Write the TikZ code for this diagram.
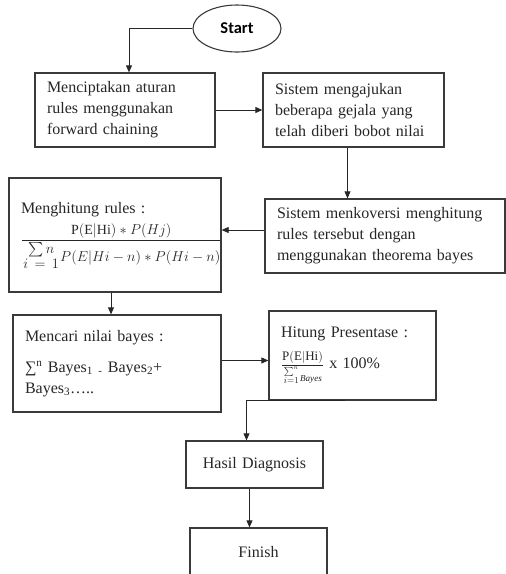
\documentclass[tikz,border=0pt]{standalone}
\usepackage{amsmath}
\usepackage{fontspec}
\setmainfont{Liberation Serif}
\newfontfamily\startfont{Carlito}
\usetikzlibrary{shapes.geometric,arrows.meta}
\definecolor{edge}{HTML}{3A3A3A}
\newcommand{\boxfont}{\fontsize{16}{21}\selectfont}

\begin{document}
\begin{tikzpicture}[x=1pt, y=-1pt,
  stage/.style={rectangle, draw=edge, line width=1.3pt, align=left, inner xsep=12pt, inner ysep=4pt, font=\boxfont, text=black!85},
  term/.style={ellipse, draw=edge, line width=1.1pt, minimum width=88pt, minimum height=47pt, inner sep=0pt, font=\startfont\bfseries\fontsize{16.5}{18}\selectfont},
  arr/.style={-{Triangle[length=7pt, width=6pt]}, line width=0.8pt, black!85}
]
  \useasboundingbox (0,0) rectangle (506,574);

  \node[term] (start) at (237,28.5) {Start};
  \node[stage, minimum width=180pt, text width=156pt, minimum height=74pt] (rules) at (125,110) {Menciptakan aturan\\rules menggunakan\\forward chaining};
  \node[stage, minimum width=181pt, text width=157pt, minimum height=74pt] (gejala) at (353.5,110) {Sistem mengajukan\\beberapa gejala yang\\telah diberi bobot nilai};
  \node[stage, minimum width=240pt, text width=216pt, minimum height=74pt] (konversi) at (385,236) {Sistem menkoversi menghitung\\rules tersebut dengan\\menggunakan theorema bayes};
  \node[stage, minimum width=212pt, text width=188pt, minimum height=114pt] (rumus) at (115,235) {Menghitung rules :\\[6pt]
    {\fontsize{14}{16}\selectfont$\dfrac{\mathrm{P(E|Hi)} \ast P(Hj)}{\genfrac{}{}{0pt}{1}{\textstyle\sum n}{\textstyle i\,=\,1}P(E|Hi-n) \ast P(Hi-n)}$}\\[8pt]};
  \node[stage, minimum width=208pt, text width=184pt, minimum height=97pt] (bayes) at (117,363.5) {Mencari nilai bayes :\\[10pt]
    ∑\textsuperscript{n} Bayes\textsubscript{1} \textsubscript{-} Bayes\textsubscript{2}+\\Bayes\textsubscript{3}\ldots..};
  \node[stage, minimum width=167pt, text width=143pt, minimum height=89pt] (persen) at (352.5,355.5) {Hitung Presentase :\\[10pt]
    {\fontsize{13}{15}\selectfont$\dfrac{\mathrm{P(E|Hi)}}{\genfrac{}{}{0pt}{1}{\sum^{n}}{i=1}{}_{\mathit{Bayes}}}$}~x 100\%};
  \node[stage, align=center, minimum width=137pt, text width=113pt, minimum height=47pt] (hasil) at (254.5,464.5) {Hasil Diagnosis};
  \node[stage, align=center, minimum width=137pt, text width=113pt, minimum height=48pt] (finish) at (258.5,552) {Finish};

  \draw[arr] (start.west) -| ([xshift=4pt]rules.north);
  \draw[arr] (rules.east) -- (gejala.west);
  \draw[arr] ([xshift=-6pt]gejala.south) -- ([xshift=-6pt]gejala.south |- konversi.north);
  \draw[arr] ([yshift=6pt]konversi.west) -- ([yshift=6pt]konversi.west -| rumus.east);
  \draw[arr] ([xshift=-4pt]rumus.south) -- ([xshift=-4pt]rumus.south |- bayes.north);
  \draw[arr] ([yshift=3pt]bayes.east) -- ([yshift=3pt]bayes.east -| persen.west);
  \draw[arr] ([xshift=-8pt]persen.south) -| ([xshift=-8pt]hasil.north);
  \draw[arr] ([xshift=-5pt]hasil.south) -- ([xshift=-5pt]hasil.south |- finish.north);
\end{tikzpicture}
\end{document}
